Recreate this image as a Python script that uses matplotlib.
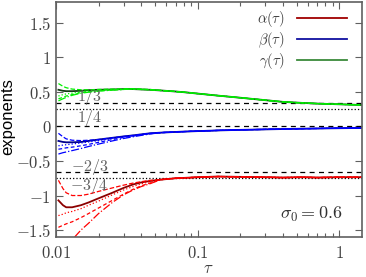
import numpy as np
import matplotlib
matplotlib.use('Agg')
from matplotlib import pyplot as plt
from matplotlib.lines import Line2D
from matplotlib.ticker import LogLocator, NullFormatter

plt.rcParams['mathtext.fontset'] = 'cm'

# time grid (shared by all curves)
tau = [0.0104, 0.0112, 0.0118, 0.013, 0.015, 0.017, 0.02, 0.025, 0.03, 0.035, 0.04, 0.046,
       0.055, 0.07, 0.08, 0.1, 0.14, 0.2, 0.3, 0.4, 0.55, 0.7, 1.0, 1.44]

# main curves
alpha_main = [-1.07, -1.14, -1.17, -1.17, -1.14, -1.10, -1.04, -0.96, -0.89, -0.84, -0.81, -0.79,
              -0.77, -0.75, -0.745, -0.735, -0.725, -0.73, -0.735, -0.74, -0.735, -0.74, -0.735, -0.735]
beta_main = [-0.21, -0.225, -0.23, -0.23, -0.225, -0.21, -0.19, -0.165, -0.145, -0.13, -0.115, -0.10,
             -0.09, -0.08, -0.075, -0.068, -0.058, -0.05, -0.043, -0.038, -0.033, -0.03, -0.026, -0.023]
gamma_main = [0.53, 0.515, 0.51, 0.51, 0.515, 0.525, 0.53, 0.535, 0.54, 0.54, 0.535, 0.53,
              0.52, 0.505, 0.495, 0.475, 0.445, 0.415, 0.38, 0.355, 0.34, 0.33, 0.32, 0.31]

# early-time part of the other runs (first 12 points), they join the main curve later
alpha_runs = [
    [-0.78, -0.90, -0.96, -1.00, -1.00, -0.98, -0.94, -0.89, -0.85, -0.82, -0.80, -0.78],
    [-1.29, -1.27, -1.25, -1.23, -1.19, -1.14, -1.08, -0.99, -0.92, -0.87, -0.83, -0.80],
    [-1.46, -1.43, -1.41, -1.38, -1.32, -1.26, -1.18, -1.07, -0.98, -0.91, -0.86, -0.82],
    [-1.90, -1.80, -1.73, -1.64, -1.50, -1.40, -1.26, -1.10, -0.99, -0.92, -0.87, -0.83],
]
beta_runs = [
    [-0.10, -0.15, -0.18, -0.20, -0.205, -0.20, -0.19, -0.165, -0.145, -0.13, -0.115, -0.10],
    [-0.28, -0.27, -0.265, -0.255, -0.24, -0.225, -0.205, -0.175, -0.15, -0.135, -0.118, -0.103],
    [-0.33, -0.32, -0.31, -0.30, -0.28, -0.26, -0.23, -0.19, -0.16, -0.14, -0.12, -0.105],
    [-0.40, -0.38, -0.37, -0.35, -0.32, -0.29, -0.255, -0.21, -0.175, -0.15, -0.13, -0.11],
]
gamma_runs = [
    [0.62, 0.58, 0.56, 0.54, 0.53, 0.53, 0.535, 0.54, 0.545, 0.545, 0.54, 0.535],
    [0.44, 0.46, 0.47, 0.48, 0.50, 0.51, 0.52, 0.53, 0.535, 0.54, 0.535, 0.53],
    [0.40, 0.42, 0.44, 0.46, 0.49, 0.50, 0.515, 0.53, 0.535, 0.54, 0.535, 0.53],
    [0.37, 0.40, 0.42, 0.45, 0.48, 0.495, 0.51, 0.525, 0.535, 0.54, 0.535, 0.53],
]
run_styles = ['--', ':', (0, (3, 2)), '-.']

# reference exponents
ref_values = [1 / 3, 1 / 4, 0, -2 / 3, -3 / 4]
ref_styles = ['--', ':', '--', '--', ':']
ref_labels = ['$1/3$', '$1/4$', '$-2/3$', '$-3/4$']
ref_label_y = [0.43, 0.12, -0.585, -0.86]

yticks = [-1.5, -1, -0.5, 0, 0.5, 1, 1.5]
ytick_labels = ['$-1.5$', '$-1$', '$-0.5$', '$0$', '$0.5$', '$1$', '$1.5$']
xticks = [0.01, 0.1, 1]
xtick_labels = ['$0.01$', '$0.1$', '$1$']

gray = '#606060'

fig = plt.figure(figsize=(3.66, 2.77), dpi=100)
ax = fig.add_axes([56 / 366, 40 / 277, 306 / 366, 235 / 277])

for v, ls in zip(ref_values, ref_styles):
    ax.axhline(v, color='k', lw=0.9, ls=ls if ls == ':' else (0, (4, 3.5)))

ax.plot(tau, alpha_main, color='#8b0000', lw=1.3)
ax.plot(tau, beta_main, color='#00008b', lw=1.3)
ax.plot(tau, gamma_main, color='#143c14', lw=1.3)

for main, runs, c in [(alpha_main, alpha_runs, '#ff0000'),
                      (beta_main, beta_runs, '#0000ff'),
                      (gamma_main, gamma_runs, '#00ee00')]:
    for r, ls in zip(runs, run_styles):
        ax.plot(tau, r + main[12:], color=c, lw=0.9, ls=ls)

for s, y in zip(ref_labels, ref_label_y):
    ax.text(0.0172, y, s, color=gray, fontsize=11.5, ha='center', va='center')

ax.text(0.935, 0.098, r'$\sigma_0 = 0.6$', transform=ax.transAxes, color='#303030',
        fontsize=13, ha='right', va='center')

handles = [Line2D([], [], color='#a00000', lw=1.3),
           Line2D([], [], color='#1010a0', lw=1.3),
           Line2D([], [], color='#3a8a3a', lw=1.3)]
leg = ax.legend(handles, [r'$\alpha(\tau)$', r'$\beta(\tau)$', r'$\gamma(\tau)$'],
                loc='upper right', bbox_to_anchor=(0.975, 1.0), frameon=False,
                markerfirst=False, handlelength=3.4, handletextpad=0.9,
                labelspacing=0.05, fontsize=10.5, borderaxespad=0.1)
for t in leg.get_texts():
    t.set_color('#404040')

ax.set_xscale('log')
ax.set_xlim(0.01, 1.45)
ax.set_ylim(-1.6, 1.8)
ax.set_xticks(xticks, xtick_labels)
ax.xaxis.set_minor_locator(LogLocator(base=10, subs=np.arange(2, 10)))
ax.xaxis.set_minor_formatter(NullFormatter())
ax.set_yticks(yticks, ytick_labels)
ax.tick_params(which='both', direction='in', top=True, right=True, color=gray,
               labelcolor='#404040', labelsize=12)
ax.tick_params(which='major', length=5, width=0.8)
ax.tick_params(which='minor', length=3, width=0.8)
ax.tick_params(axis='x', pad=5)
for sp in ax.spines.values():
    sp.set_color(gray)
    sp.set_linewidth(1.2)

ax.set_xlabel(r'$\tau$', fontsize=12, color='#404040', va='center')
ax.xaxis.set_label_coords(0.497, -0.132)
ax.set_ylabel('exponents', fontsize=12, family='Liberation Sans', va='center')
ax.yaxis.set_label_coords(-0.158, 0.513)

fig.savefig('out.png', dpi=100)
